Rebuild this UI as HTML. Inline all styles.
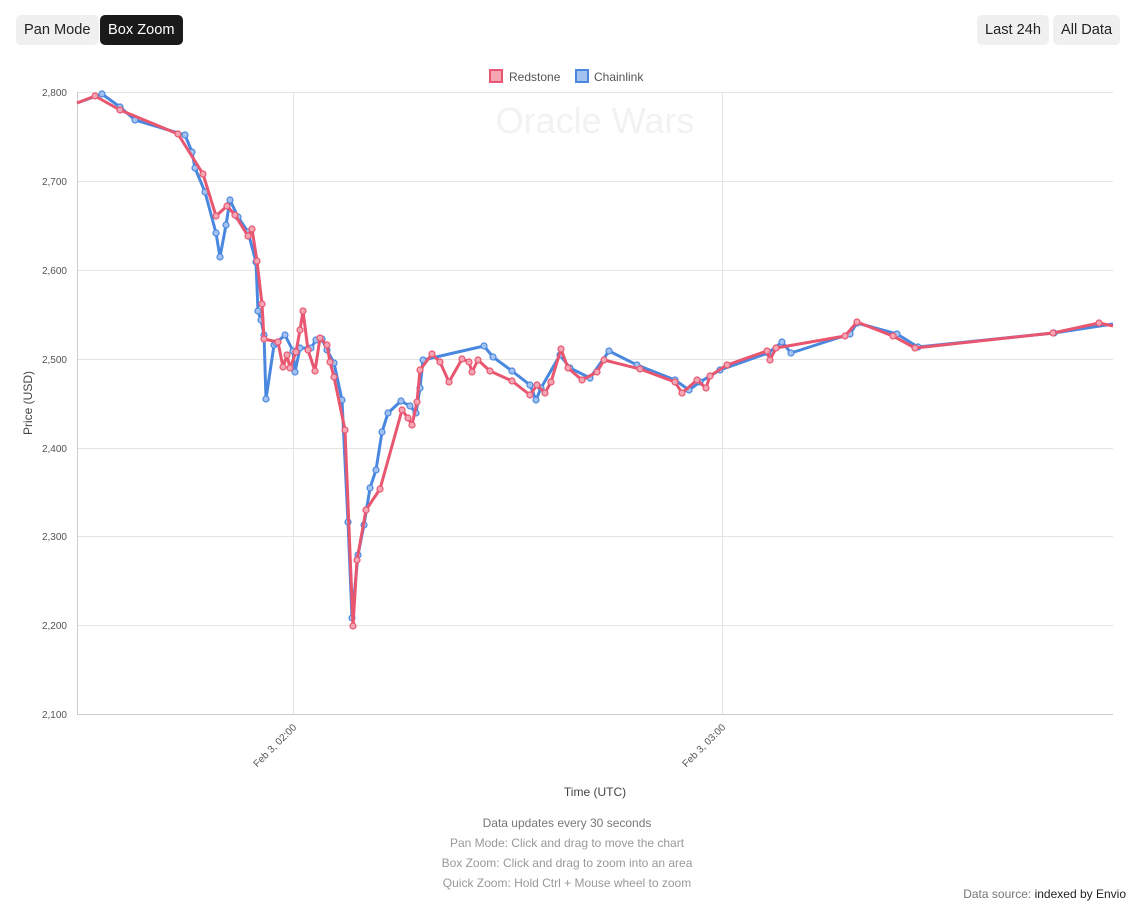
<!DOCTYPE html>
<html><head><meta charset="utf-8"><style>
body{margin:0;width:1139px;height:908px;background:#fff;font-family:"Liberation Sans",sans-serif;position:relative;overflow:hidden}
.btn{position:absolute;top:15px;height:30px;line-height:31px;padding:0 8px;border-radius:5px;font-size:14.6px;background:#f0f0f0;color:#222}
.dark{background:#1a1a1a;color:#fff}
.note{position:absolute;left:0;width:1134px;text-align:center;font-size:12px;color:#999}
</style></head><body>
<div class="btn" style="left:16px">Pan Mode</div>
<div class="btn dark" style="left:100px">Box Zoom</div>
<div class="btn" style="left:977px">Last 24h</div>
<div class="btn" style="left:1053px">All Data</div>
<svg width="1139" height="908" style="position:absolute;left:0;top:0" font-family="Liberation Sans, sans-serif">
<defs>
<marker id="mb" markerUnits="userSpaceOnUse" markerWidth="10" markerHeight="10" refX="5" refY="5"><circle cx="5" cy="5" r="3" fill="#a3c2f0" stroke="#4a88e0" stroke-width="1.2"/></marker>
<marker id="mr" markerUnits="userSpaceOnUse" markerWidth="10" markerHeight="10" refX="5" refY="5"><circle cx="5" cy="5" r="3" fill="#f4a6b4" stroke="#e8566f" stroke-width="1.2"/></marker>
</defs>
<text x="595" y="133" font-size="36" fill="#f2f2f2" text-anchor="middle">Oracle Wars</text>
<g stroke="#e4e4e4" stroke-width="1">
<line x1="77" x2="1113" y1="92.5" y2="92.5"/><line x1="77" x2="1113" y1="181.5" y2="181.5"/><line x1="77" x2="1113" y1="270.5" y2="270.5"/><line x1="77" x2="1113" y1="359.5" y2="359.5"/><line x1="77" x2="1113" y1="448.5" y2="448.5"/><line x1="77" x2="1113" y1="536.5" y2="536.5"/><line x1="77" x2="1113" y1="625.5" y2="625.5"/>
<line x1="293.5" x2="293.5" y1="92" y2="714"/><line x1="722.5" x2="722.5" y1="92" y2="714"/>
</g>
<line x1="77.5" x2="77.5" y1="92" y2="714" stroke="#ccc"/>
<line x1="77" x2="1113" y1="714.5" y2="714.5" stroke="#ccc"/>
<g font-size="10" fill="#555" text-anchor="end">
<text x="67" y="96">2,800</text><text x="67" y="185">2,700</text><text x="67" y="274">2,600</text><text x="67" y="363">2,500</text><text x="67" y="452">2,400</text><text x="67" y="540">2,300</text><text x="67" y="629">2,200</text><text x="67" y="718">2,100</text>
<text transform="translate(297,728) rotate(-45)">Feb 3, 02:00</text>
<text transform="translate(726,728) rotate(-45)">Feb 3, 03:00</text>
</g>
<text transform="translate(32,403) rotate(-90)" font-size="12" fill="#444" text-anchor="middle">Price (USD)</text>
<text x="595" y="796" font-size="12" fill="#444" text-anchor="middle">Time (UTC)</text>
<rect x="490" y="70" width="12" height="12" fill="#f4a6b4" stroke="#e8566f" stroke-width="2"/>
<text x="509" y="81" font-size="12" fill="#555">Redstone</text>
<rect x="576" y="70" width="12" height="12" fill="#a3c2f0" stroke="#4a88e0" stroke-width="2"/>
<text x="594" y="81" font-size="12" fill="#555">Chainlink</text>
<polyline fill="none" stroke="#4a88e0" stroke-width="3" stroke-linejoin="round" marker-mid="url(#mb)" points="77,103 102,94 120,107 135,120 185,135 192,152 195,168 205,192 216,233 220,257 226,225 230,200 238,217 248,232 256,262 258,311 261,320 264,335 266,399 274,345 276,343 285,335 293,351 295,372 300,348 311,348 316,340 322,339 327,350 334,363 342,400 348,522 352,618 358,555 364,525 370,488 376,470 382,432 388,413 401,401 410,406 416,413 420,388 423,360 484,346 493,357 512,371 530,385 536,400 541,388 560,355 570,368 590,378 609,351 637,365 675,380 689,390 700,382 720,370 768,353 782,342 791,353 850,334 857,323 897,334 918,347 1054,333 1113,324"/>
<polyline fill="none" stroke="#e8566f" stroke-width="3" stroke-linejoin="round" marker-mid="url(#mr)" points="77,103 95,96 120,110 178,134 203,174 216,216 227,206 235,215 248,236 252,229 257,261 262,304 264,339 278,342 283,367 287,355 290,368 296,352 300,330 303,311 308,350 315,371 320,338 327,345 330,362 334,377 345,430 353,626 357,560 366,510 380,489 402,410 408,418 412,425 417,402 420,370 432,354 440,362 449,382 462,359 469,362 472,372 478,360 490,371 512,381 530,395 537,385 545,393 551,382 561,349 568,368 582,380 597,372 604,360 640,369 675,382 682,393 697,380 706,388 710,376 727,365 767,351 770,360 776,348 845,336 857,322 893,336 915,348 1053,333 1099,323 1113,326"/>
</svg>
<div class="note" style="top:816px;color:#777">Data updates every 30 seconds</div>
<div class="note" style="top:836px">Pan Mode: Click and drag to move the chart</div>
<div class="note" style="top:856px">Box Zoom: Click and drag to zoom into an area</div>
<div class="note" style="top:876px">Quick Zoom: Hold Ctrl + Mouse wheel to zoom</div>
<div style="position:absolute;right:13px;top:887px;font-size:12px;color:#777">Data source: <span style="color:#222">indexed by Envio</span></div>
</body></html>
